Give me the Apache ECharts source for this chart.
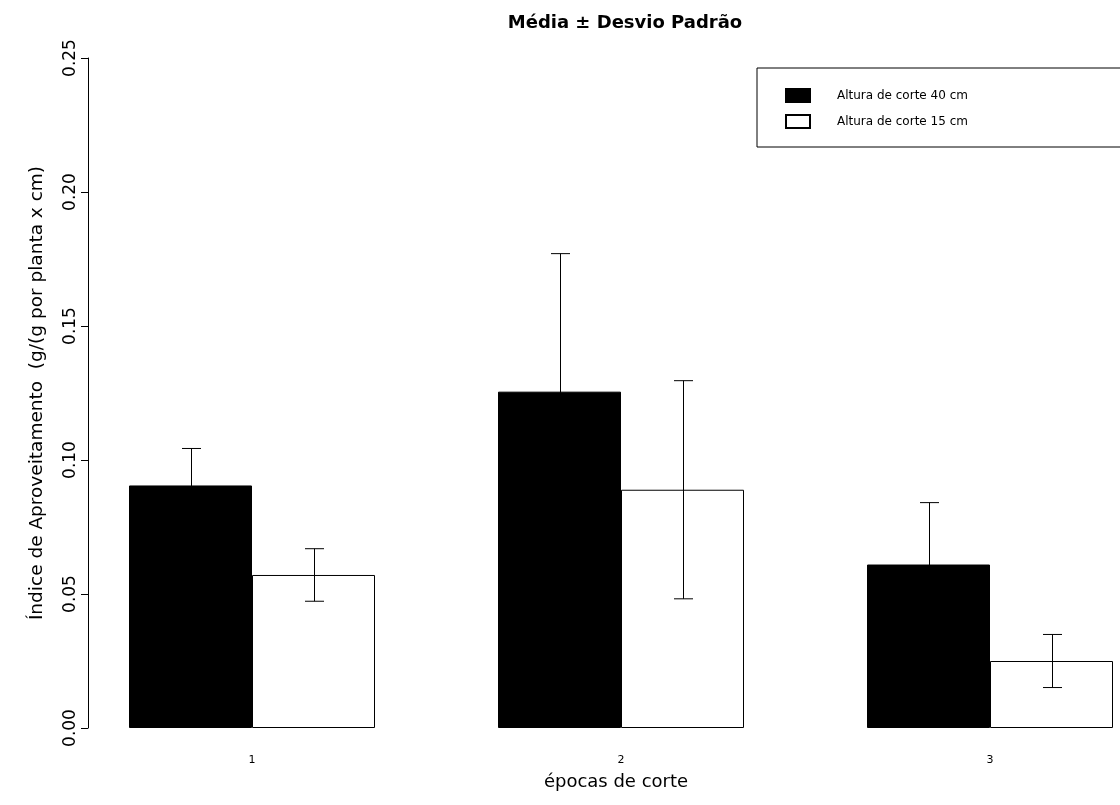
<!DOCTYPE html>
<html>
<head>
<meta charset="utf-8">
<script src="https://cdn.jsdelivr.net/npm/echarts@6/dist/echarts.min.js"></script>
<style>
html,body{margin:0;padding:0;background:#fff;}
#chart{width:1120px;height:805px;}
</style>
</head>
<body>
<div id="chart"></div>
<script>
// ---- data ----
const categories = ['1', '2', '3'];
const seriesNames = ['Altura de corte 40 cm', 'Altura de corte 15 cm'];
const mean40 = [0.0905, 0.1255, 0.0610];
const sd40 = [0.0138, 0.0515, 0.0231];
const mean15 = [0.0571, 0.0889, 0.0250];
const sd15 = [0.0098, 0.0407, 0.0099];
const yMin = 0, yMax = 0.25, yStep = 0.05;
const titleText = 'Média ± Desvio Padrão';
const xName = 'épocas de corte';
const yName = 'Índice de Aproveitamento  (g/(g por planta x cm)';

// ---- styles ----
const FONT = 'DejaVu Sans';
const BAR_W = 123;
const CAP = 9.5;

function errData(means, sds) {
  return means.map((m, i) => [i, m - sds[i], m + sds[i]]);
}

function errRender(sign) {
  return function (params, api) {
    const i = api.value(0);
    const lo = api.coord([i, api.value(1)]);
    const hi = api.coord([i, api.value(2)]);
    const x = Math.round(lo[0] + sign * BAR_W / 2) + 0.5;
    const st = { stroke: '#000', lineWidth: 1 };
    return {
      type: 'group',
      children: [
        { type: 'line', shape: { x1: x, y1: lo[1], x2: x, y2: hi[1] }, style: st },
        { type: 'line', shape: { x1: x - CAP, y1: hi[1], x2: x + CAP, y2: hi[1] }, style: st },
        { type: 'line', shape: { x1: x - CAP, y1: lo[1], x2: x + CAP, y2: lo[1] }, style: st }
      ]
    };
  };
}

const chart = echarts.init(document.getElementById('chart'), null, { renderer: 'canvas' });
chart.setOption({
  animation: false,
  backgroundColor: '#fff',
  textStyle: { fontFamily: FONT },
  title: {
    text: titleText,
    left: 620,
    top: 9,
    textAlign: 'center',
    textStyle: { fontFamily: FONT, fontWeight: 'bold', fontSize: 18, color: '#000' }
  },
  legend: {
    data: seriesNames,
    orient: 'vertical',
    left: 757,
    top: 68,
    padding: [20, 200, 18, 28],
    itemWidth: 24,
    itemHeight: 13,
    itemGap: 11,
    icon: 'rect',
    borderColor: '#000',
    borderWidth: 1,
    textStyle: { fontFamily: FONT, fontSize: 12, color: '#000', padding: [0, 0, 0, 22] }
  },
  grid: { left: 67.5, top: 58, width: 1107, height: 670, containLabel: false, outerBoundsMode: 'none' },
  xAxis: {
    type: 'category',
    data: categories,
    axisLine: { show: false },
    axisTick: { show: false },
    axisLabel: { fontFamily: FONT, fontSize: 11, color: '#000', margin: 27 },
    name: xName,
    nameLocation: 'middle',
    nameGap: 45,
    nameTextStyle: { fontFamily: FONT, fontSize: 18, color: '#000', padding: [0, 10, 0, 0] }
  },
  yAxis: {
    type: 'value',
    min: yMin,
    max: yMax,
    interval: yStep,
    offset: -20.5,
    axisLine: { show: true, lineStyle: { color: '#000', width: 1 } },
    axisTick: { show: true, length: 7, lineStyle: { color: '#000' } },
    splitLine: { show: false },
    axisLabel: {
      rotate: 90,
      margin: 9,
      fontFamily: FONT,
      fontSize: 17,
      color: '#000',
      formatter: v => v.toFixed(2)
    },
    name: yName,
    nameLocation: 'middle',
    nameGap: 41,
    nameRotate: 90,
    nameTextStyle: { fontFamily: FONT, fontSize: 18.5, color: '#000' }
  },
  series: [
    {
      name: seriesNames[0],
      type: 'bar',
      data: mean40,
      barWidth: BAR_W,
      barGap: '0%',
      itemStyle: { color: '#000', borderColor: '#000', borderWidth: 1 }
    },
    {
      name: seriesNames[1],
      type: 'bar',
      data: mean15,
      barWidth: BAR_W,
      barGap: '0%',
      itemStyle: { color: '#fff', borderColor: '#000', borderWidth: 1 }
    },
    {
      name: 'err40',
      type: 'custom',
      data: errData(mean40, sd40),
      encode: { x: 0, y: [1, 2] },
      renderItem: errRender(-1),
      z: 10
    },
    {
      name: 'err15',
      type: 'custom',
      data: errData(mean15, sd15),
      encode: { x: 0, y: [1, 2] },
      renderItem: errRender(1),
      z: 10
    }
  ]
});
</script>
</body>
</html>
